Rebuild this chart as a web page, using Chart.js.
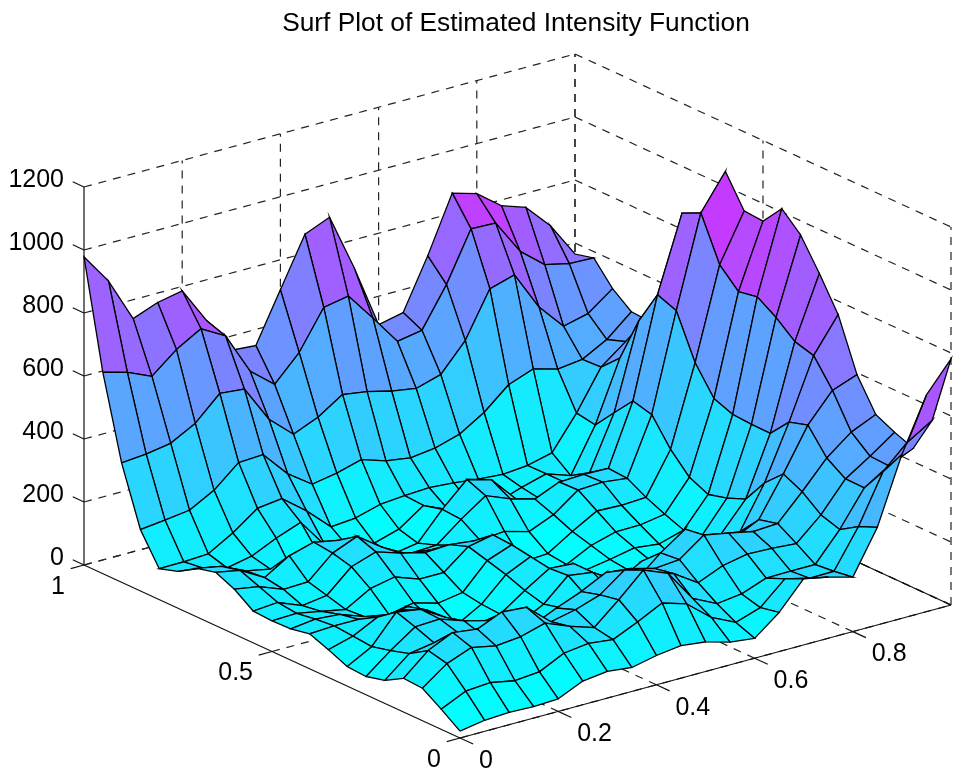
<!DOCTYPE html>
<html>
<head>
<meta charset="utf-8">
<title>Surf Plot of Estimated Intensity Function</title>
<script src="https://cdn.jsdelivr.net/npm/chart.js@4/dist/chart.umd.min.js"></script>
<style>
html, body { margin: 0; padding: 0; background: #fff; }
canvas { display: block; }
</style>
</head>
<body>
<canvas id="surfChart" width="972" height="773"></canvas>
<script>
const titleText = 'Surf Plot of Estimated Intensity Function';
const xTicks = [0, 0.2, 0.4, 0.6, 0.8];
const yTicks = [0, 0.5, 1];
const zTicks = [0, 200, 400, 600, 800, 1000, 1200];

// one row per y step (0 to 1 by 0.05), each row runs x 0 to 1 by 0.05
const z00 = [22,35,39,36,40,75,85,76,93,103,94,72,63,124,210,194,173,310,520,688,781];
const z01 = [64,100,106,91,98,136,146,137,172,211,187,123,86,112,182,163,164,285,438,511,559];
const z02 = [103,160,190,174,182,204,173,148,215,288,257,156,118,128,157,158,158,248,359,408,443];
const z03 = [107,174,210,200,233,227,160,177,203,261,230,207,157,190,206,203,197,267,360,411,466];
const z04 = [73,137,150,160,130,120,120,155,186,225,217,196,203,260,245,229,233,313,399,460,495];
const z05 = [58,119,173,177,150,130,100,80,106,120,120,130,197,251,200,180,218,342,476,565,594];
const z06 = [62,104,193,180,134,86,40,50,91,161,150,100,143,130,130,120,152,286,458,648,757];
const z07 = [88,110,149,150,130,62,40,53,107,156,150,50,60,60,70,60,118,207,395,665,860];
const z08 = [111,115,115,100,113,50,13,57,130,166,30,20,41,38,40,25,87,183,396,714,955];
const z09 = [99,109,103,75,60,76,54,67,147,176,30,20,32,45,61,52,75,167,400,752,1011];
const z10 = [97,100,85,70,115,131,103,103,164,180,50,20,23,62,84,85,98,194,423,741,944];
const z11 = [101,107,76,87,157,183,158,139,143,134,60,25,30,79,123,120,124,255,509,799,949];
const z12 = [143,130,100,103,173,205,150,108,99,93,87,94,72,105,162,166,157,338,647,936,1047];
const z13 = [169,154,110,158,180,165,110,80,62,65,126,180,149,127,160,163,161,354,670,908,800];
const z14 = [154,139,104,88,45,90,90,72,31,44,130,204,182,100,78,110,120,289,559,623,600];
const z15 = [117,107,86,102,138,167,72,40,38,61,115,81,68,62,88,110,83,223,414,510,500];
const z16 = [98,99,103,148,205,215,155,83,90,112,119,123,117,108,102,109,128,233,358,418,460];
const z17 = [195,204,214,256,323,327,245,191,205,227,202,190,200,223,271,338,367,345,355,397,464];
const z18 = [379,386,399,441,515,508,391,322,355,406,394,375,362,385,472,615,638,515,433,452,510];
const z19 = [640,618,584,648,693,649,516,453,533,655,670,579,484,498,622,778,775,664,601,583,580];
const z20 = [978,880,740,770,786,670,555,549,705,860,893,712,510,527,686,864,841,782,755,676,565];
const zRows = [z00,z01,z02,z03,z04,z05,z06,z07,z08,z09,z10,z11,z12,z13,z14,z15,z16,z17,z18,z19,z20];

const zTop = 1200;
const colorMin = 30;
const colorMax = 1030;
const gridStep = 0.05;

// fixed 3d view of the box, measured in page units
function project(x, y, z) {
    return {
        x: 460 + 491 * x - 376 * y,
        y: 738 - 133 * x - 173 * y - 0.315 * z
    };
}

function coolColor(z) {
    const t = Math.min(1, Math.max(0, (z - colorMin) / (colorMax - colorMin)));
    return 'rgb(' + Math.round(255 * t) + ',' + Math.round(255 * (1 - t)) + ',255)';
}

function axisLine(a, b, dashed, width) {
    return {
        data: [project(a[0], a[1], a[2]), project(b[0], b[1], b[2])],
        showLine: true,
        pointRadius: 0,
        fill: false,
        borderColor: dashed ? '#222' : '#111',
        borderWidth: width || 1.2,
        borderDash: dashed ? [8, 7] : []
    };
}

const datasets = [];

// first dataset is painted last, so the nearest faces go first
for (let i = 0; i < 20; i++) {
    for (let j = 0; j < 20; j++) {
        const x0 = i * gridStep, x1 = (i + 1) * gridStep;
        const y0 = j * gridStep, y1 = (j + 1) * gridStep;
        const p = project(x0, y0, zRows[j][i]);
        datasets.push({
            data: [
                p,
                project(x1, y0, zRows[j][i + 1]),
                project(x1, y1, zRows[j + 1][i + 1]),
                project(x0, y1, zRows[j + 1][i]),
                p
            ],
            showLine: true,
            pointRadius: 0,
            borderColor: '#000',
            borderWidth: 1.3,
            backgroundColor: coolColor(zRows[j][i]),
            fill: 'shape'
        });
    }
}

// box: front axes and ticks
datasets.push(axisLine([0, 0, 0], [1, 0, 0]));
datasets.push(axisLine([0, 0, 0], [0, 1, 0]));
datasets.push(axisLine([1, 0, 0], [1, 1, 0]));
datasets.push(axisLine([0, 1, 0], [0, 1, zTop]));
xTicks.forEach(t => datasets.push(axisLine([t, 0, 0], [t, -0.035, 0])));
yTicks.forEach(t => datasets.push(axisLine([0, t, 0], [-0.027, t, 0])));
zTicks.forEach(t => datasets.push(axisLine([0, 1, t], [0, 1.03, t])));

// dashed grid on floor and the two back walls
[0.2, 0.4, 0.6, 0.8, 1].forEach(t => {
    datasets.push(axisLine([t, 0, 0], [t, 1, 0], true));
    datasets.push(axisLine([t, 1, 0], [t, 1, zTop], true));
});
[0, 0.5, 1].forEach(t => {
    datasets.push(axisLine([0, t, 0], [1, t, 0], true));
    datasets.push(axisLine([1, t, 0], [1, t, zTop], true));
});
zTicks.forEach(t => {
    datasets.push(axisLine([0, 1, t], [1, 1, t], true));
    datasets.push(axisLine([1, 1, t], [1, 0, t], true));
});

const labelPlugin = {
    id: 'boxLabels',
    afterDraw(chart) {
        const ctx = chart.ctx;
        const sx = chart.scales.x, sy = chart.scales.y;
        const at = (x, y, z) => {
            const p = project(x, y, z);
            return [sx.getPixelForValue(p.x), sy.getPixelForValue(p.y)];
        };
        ctx.save();
        ctx.fillStyle = '#000';
        ctx.font = '25px "Liberation Sans", Arial, sans-serif';
        ctx.textBaseline = 'middle';

        ctx.textAlign = 'right';
        zTicks.forEach(t => {
            const p = at(0, 1, t);
            ctx.fillText(String(t), p[0] - 20, p[1] - 7);
        });
        yTicks.forEach(t => {
            const p = at(0, t, 0);
            ctx.fillText(String(t), p[0] - 19, p[1] + 22);
        });
        ctx.textAlign = 'left';
        xTicks.forEach(t => {
            const p = at(t, 0, 0);
            ctx.fillText(String(t), p[0] + 19, p[1] + 23);
        });

        ctx.font = '26.3px "Liberation Sans", Arial, sans-serif';
        ctx.textAlign = 'center';
        ctx.fillText(titleText, sx.getPixelForValue(516), sy.getPixelForValue(24));
        ctx.restore();
    }
};

new Chart(document.getElementById('surfChart').getContext('2d'), {
    type: 'scatter',
    data: { datasets: datasets },
    plugins: [labelPlugin],
    options: {
        responsive: false,
        animation: false,
        events: [],
        clip: false,
        layout: { padding: 0 },
        scales: {
            x: { type: 'linear', display: false, min: 0, max: 972 },
            y: { type: 'linear', display: false, min: 0, max: 773, reverse: true }
        },
        plugins: {
            legend: { display: false },
            tooltip: { enabled: false },
            title: { display: false }
        }
    }
});
</script>
</body>
</html>
